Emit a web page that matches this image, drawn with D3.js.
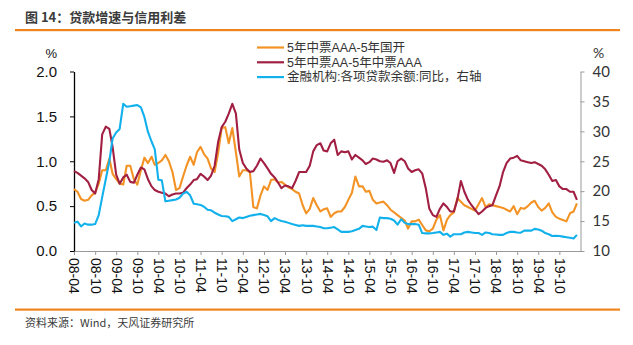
<!DOCTYPE html>
<html>
<head>
<meta charset="utf-8">
<script src="https://cdn.jsdelivr.net/npm/d3@7"></script>
<style>
  html, body { margin: 0; padding: 0; background: #fff; }
  svg { display: block; }
</style>
</head>
<body>
<svg id="chart" width="633" height="345"></svg>
<script>
// Monthly series, first observation 2008-04
const firstMonth = "2008-04";
const monthCount = 144;

// 5年中票AAA-5年国开 (%, left axis)
const spreadAAA = [
  0.69, 0.66, 0.58, 0.56, 0.57, 0.62, 0.65, 0.75, 0.90, 0.90,
  1.03, 0.86, 0.80, 0.75, 0.74, 0.95, 0.95, 0.80, 0.74, 0.90,
  1.04, 0.98, 1.05, 0.96, 0.98, 1.01, 1.07, 1.00, 0.88, 0.68,
  0.70, 0.83, 0.95, 1.05, 0.96, 1.10, 1.16, 1.08, 1.03, 0.92,
  0.88, 1.10, 1.37, 1.38, 1.20, 1.37, 1.10, 0.83, 0.90, 0.90,
  0.88, 0.49, 0.475, 0.62, 0.72, 0.68, 0.79, 0.80, 0.76, 0.77,
  0.74, 0.71, 0.69, 0.66, 0.64, 0.51, 0.42, 0.47, 0.59, 0.51,
  0.44, 0.465, 0.475, 0.38, 0.42, 0.44, 0.44, 0.49, 0.57, 0.65,
  0.83, 0.72, 0.72, 0.66, 0.67, 0.57, 0.53, 0.54, 0.55, 0.51,
  0.46, 0.43, 0.40, 0.37, 0.34, 0.25, 0.33, 0.33, 0.35, 0.29,
  0.23, 0.22, 0.25, 0.35, 0.40, 0.23, 0.35, 0.40, 0.43, 0.59,
  0.55, 0.51, 0.49, 0.47, 0.45, 0.52, 0.59, 0.49, 0.52, 0.51,
  0.50, 0.49, 0.48, 0.46, 0.44, 0.50, 0.41, 0.48, 0.47, 0.50,
  0.54, 0.56, 0.49, 0.45, 0.48, 0.53, 0.43, 0.38, 0.36, 0.345,
  0.33, 0.42, 0.44, 0.53
];

// 5年中票AA-5年中票AAA (%, left axis)
const spreadAA = [
  0.89, 0.87, 0.84, 0.81, 0.77, 0.68, 0.64, 0.80, 1.30, 1.385,
  1.36, 1.16, 0.85, 0.75, 0.82, 0.85, 0.77, 0.76, 0.85, 0.93,
  0.91, 0.80, 0.72, 0.68, 0.66, 0.65, 0.64, 0.61, 0.63, 0.64,
  0.64, 0.65, 0.70, 0.74, 0.79, 0.80, 0.86, 0.83, 0.79, 0.84,
  0.95, 1.22, 1.38, 1.44, 1.53, 1.64, 1.53, 1.13, 0.98, 0.92,
  0.88, 0.89, 0.95, 1.03, 0.98, 0.92, 0.86, 0.82, 0.76, 0.70,
  0.73, 0.72, 0.70, 0.78, 0.88, 0.88, 0.88, 0.95, 1.11, 1.18,
  1.20, 1.12, 1.11, 1.20, 1.24, 1.07, 1.11, 1.10, 1.11, 1.02,
  1.07, 1.04, 1.01, 0.97, 0.99, 1.03, 1.02, 1.00, 0.995, 1.01,
  0.98, 0.87, 1.00, 1.03, 1.00, 0.92, 0.88, 0.90, 0.91, 0.865,
  0.70, 0.47, 0.40, 0.38, 0.47, 0.53, 0.49, 0.44, 0.44, 0.57,
  0.78, 0.66, 0.57, 0.51, 0.46, 0.41, 0.44, 0.48, 0.50, 0.51,
  0.62, 0.72, 0.88, 0.98, 1.03, 1.04, 1.06, 1.01, 1.00, 0.99,
  0.98, 0.99, 0.97, 0.95, 0.91, 0.85, 0.78, 0.79, 0.72, 0.69,
  0.69, 0.66, 0.66, 0.57
];

// 金融机构:各项贷款余额:同比 (%, right axis)
const loanGrowth = [
  14.7, 14.9, 14.1, 14.6, 14.4, 14.4, 14.5, 16.0, 19.0, 22.0,
  25.0, 28.8, 29.8, 30.4, 34.6, 34.1, 34.2, 34.3, 34.4, 34.0,
  32.4, 29.9, 28.3, 27.0, 21.9, 21.8, 18.3, 18.4, 18.5, 18.6,
  18.9, 19.6, 19.9, 19.3, 17.9, 17.8, 17.7, 17.4, 16.9, 16.8,
  16.4, 16.1, 15.85, 15.8, 15.7, 15.0, 15.3, 15.6, 15.5, 15.7,
  15.9, 16.0, 16.1, 16.2, 16.0, 15.8, 15.0, 15.5, 15.2, 15.0,
  14.9, 14.7, 14.5, 14.35, 14.2, 14.3, 14.2, 14.2, 14.2, 14.1,
  14.0, 13.8, 13.8, 13.9, 14.0, 13.6, 13.2, 13.2, 13.2, 13.3,
  13.5, 13.7, 14.2, 14.1, 14.0, 14.07, 13.5, 15.6, 15.5, 15.5,
  15.4, 15.1, 14.4, 15.3, 14.7, 14.5, 14.5, 14.5, 14.4, 13.0,
  12.95, 12.95, 13.0, 13.1, 13.2, 12.7, 12.9, 12.4, 12.8, 12.8,
  12.8, 13.1, 13.2, 13.1, 13.0, 13.0, 12.7, 13.1, 13.0, 12.8,
  12.75, 12.7, 12.7, 13.0, 13.2, 13.2, 13.1, 13.06, 13.4, 13.4,
  13.4, 13.7, 13.6, 13.4, 13.0, 12.8, 12.5, 12.55, 12.5, 12.4,
  12.3, 12.2, 12.1, 12.7
];

const tickLabels = [
  "08-04", "08-10", "09-04", "09-10", "10-04", "10-10", "11-04", "11-10",
  "12-04", "12-10", "13-04", "13-10", "14-04", "14-10", "15-04", "15-10",
  "16-04", "16-10", "17-04", "17-10", "18-04", "18-10", "19-04", "19-10"
];
const leftTicks = [0, 0.5, 1.0, 1.5, 2.0];
const rightTicks = [10, 15, 20, 25, 30, 35, 40];

const seriesNames = ["5年中票AAA-5年国开", "5年中票AA-5年中票AAA", "金融机构:各项贷款余额:同比，右轴"];
const seriesColors = ["#F39325", "#A11F42", "#12B1EC"];

const titleText = "图 14：贷款增速与信用利差";
const sourceText = "资料来源：Wind，天风证券研究所";

const cjk = "'Noto Sans CJK SC', 'Noto Sans', sans-serif";
const latin = "'Liberation Sans', Arial, sans-serif";
const legendFont = "'Liberation Sans', 'Noto Sans CJK SC', sans-serif";

const svg = d3.select("#chart");

// months of the sample
const parseMonth = d3.timeParse("%Y-%m");
const start = parseMonth(firstMonth);
const months = d3.timeMonth.range(start, d3.timeMonth.offset(start, monthCount));
const tickDates = tickLabels.map(d3.timeParse("%y-%m"));

const plot = { left: 74, right: 580.5, top: 71.5, bottom: 251 };

const x = d3.scaleTime()
  .domain([start, d3.timeMonth.offset(start, monthCount)])
  .range([plot.left, plot.right]);
const yL = d3.scaleLinear().domain([0, 2]).range([plot.bottom, plot.top]);
const yR = d3.scaleLinear().domain([10, 40]).range([plot.bottom, plot.top]);

// header and footer
svg.append("text")
  .attr("x", 25).attr("y", 22)
  .attr("font-family", cjk).attr("font-size", 13).attr("font-weight", "bold")
  .attr("fill", "#3b3b3b")
  .text(titleText);
svg.append("rect").attr("x", 15).attr("y", 29).attr("width", 605).attr("height", 2.2).attr("fill", "#F0851F");
svg.append("rect").attr("x", 15).attr("y", 308.5).attr("width", 605).attr("height", 2.2).attr("fill", "#F0851F");
svg.append("text")
  .attr("x", 25).attr("y", 326.5)
  .attr("font-family", cjk).attr("font-size", 11)
  .attr("fill", "#3b3b3b")
  .text(sourceText);

// axes
const gx = svg.append("g")
  .attr("transform", `translate(0,${plot.bottom})`)
  .call(d3.axisBottom(x).tickValues(tickDates).tickFormat(d3.timeFormat("%y-%m"))
    .tickSize(4).tickSizeOuter(0));
gx.select(".domain").attr("stroke", "#9a9a9a");
gx.selectAll(".tick line").attr("stroke", "#9a9a9a");
gx.selectAll(".tick text")
  .attr("transform", "rotate(90)")
  .attr("x", 7).attr("y", 0).attr("dy", "0.36em")
  .style("text-anchor", "start")
  .attr("font-family", latin).attr("font-size", 14).attr("fill", "#111");

const gl = svg.append("g")
  .attr("transform", `translate(${plot.left},0)`)
  .call(d3.axisLeft(yL).tickValues(leftTicks).tickFormat(d3.format(".1f"))
    .tickSize(4).tickPadding(13).tickSizeOuter(0));
gl.select(".domain").attr("stroke", "#000").attr("stroke-width", 1.3);
gl.selectAll(".tick line").attr("stroke", "#000");
gl.selectAll(".tick text").attr("font-family", latin).attr("font-size", 15).attr("fill", "#111");

const gr = svg.append("g")
  .attr("transform", `translate(${plot.right},0)`)
  .call(d3.axisRight(yR).tickValues(rightTicks)
    .tickSize(4).tickPadding(8).tickSizeOuter(0));
gr.select(".domain").attr("stroke", "#9a9a9a");
gr.selectAll(".tick line").attr("stroke", "#9a9a9a");
gr.selectAll(".tick text").attr("font-family", "Lato, 'Open Sans', sans-serif").attr("font-size", 15).attr("fill", "#333");

// unit labels
svg.append("text").attr("x", 57).attr("y", 58).attr("text-anchor", "end")
  .attr("font-family", latin).attr("font-size", 13).attr("fill", "#111").text("%");
svg.append("text").attr("x", 593).attr("y", 58)
  .attr("font-family", "Lato, sans-serif").attr("font-size", 14).attr("fill", "#333").text("%");

// lines
const lineL = d3.line().x((d, i) => x(months[i])).y(d => yL(d)).curve(d3.curveLinear);
const lineR = d3.line().x((d, i) => x(months[i])).y(d => yR(d)).curve(d3.curveLinear);

const series = [
  { values: spreadAAA, gen: lineL, color: seriesColors[0] },
  { values: spreadAA, gen: lineL, color: seriesColors[1] },
  { values: loanGrowth, gen: lineR, color: seriesColors[2] }
];
svg.append("g").selectAll("path")
  .data(series)
  .join("path")
  .attr("d", s => s.gen(s.values))
  .attr("fill", "none")
  .attr("stroke", s => s.color)
  .attr("stroke-width", 2.1)
  .attr("stroke-linejoin", "round");

// legend
const legend = svg.append("g").attr("transform", "translate(257,47.5)");
const rows = legend.selectAll("g").data(seriesNames).join("g")
  .attr("transform", (d, i) => `translate(0,${i * 14.8})`);
rows.append("line").attr("x1", 0).attr("x2", 27).attr("y1", 0).attr("y2", 0)
  .attr("stroke", (d, i) => seriesColors[i]).attr("stroke-width", 2.2);
rows.append("text").attr("x", 30).attr("y", 0).attr("dy", "0.35em")
  .attr("font-family", legendFont).attr("font-size", 12.5).attr("fill", "#333")
  .text(d => d);
</script>
</body>
</html>
